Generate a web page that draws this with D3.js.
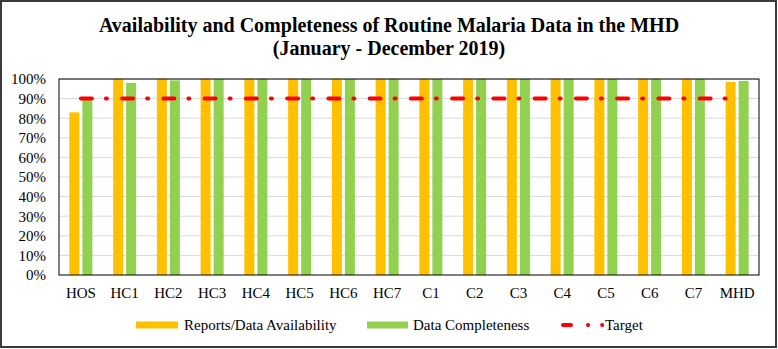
<!DOCTYPE html>
<html>
<head>
<meta charset="utf-8">
<script src="https://cdn.jsdelivr.net/npm/d3@7"></script>
<style>
  body { margin: 0; background: #fff; }
  svg text { font-family: "Liberation Serif", "Times New Roman", serif; }
</style>
</head>
<body>
<svg width="778" height="349"></svg>
<script>
// categories and values
const sites = ['HOS', 'HC1', 'HC2', 'HC3', 'HC4', 'HC5', 'HC6', 'HC7', 'C1', 'C2', 'C3', 'C4', 'C5', 'C6', 'C7', 'MHD'];
const availability = [83, 100, 100, 100, 100, 100, 100, 100, 100, 100, 100, 100, 100, 100, 100, 98.5];
const completeness = [90, 98, 99.3, 100, 100, 100, 100, 100, 100, 100, 100, 100, 100, 100, 100, 99];
const target = [90, 90, 90, 90, 90, 90, 90, 90, 90, 90, 90, 90, 90, 90, 90, 90];
const yTicks = [0, 10, 20, 30, 40, 50, 60, 70, 80, 90, 100];

const svg = d3.select('svg');
const width = 778, height = 349;
const margin = { top: 79, right: 19, bottom: 74, left: 59 };

// outer frame
svg.append('rect')
  .attr('x', 1).attr('y', 1)
  .attr('width', width - 3).attr('height', height - 3)
  .attr('fill', 'none').attr('stroke', '#3a3a3a').attr('stroke-width', 2);

// title
svg.append('text')
  .attr('x', 389).attr('y', 32)
  .attr('text-anchor', 'middle')
  .attr('font-size', 20).attr('font-weight', 'bold')
  .text('Availability and Completeness of Routine Malaria Data in the MHD');
svg.append('text')
  .attr('x', 389).attr('y', 55)
  .attr('text-anchor', 'middle')
  .attr('font-size', 20).attr('font-weight', 'bold')
  .text('(January - December 2019)');

const x = d3.scaleBand()
  .domain(sites)
  .range([margin.left, width - margin.right]);

const y = d3.scaleLinear()
  .domain([0, 100])
  .range([height - margin.bottom, margin.top]);

// gridlines
svg.append('g')
  .selectAll('line')
  .data(yTicks.slice(1))
  .enter().append('line')
  .attr('x1', margin.left).attr('x2', width - margin.right)
  .attr('y1', d => y(d)).attr('y2', d => y(d))
  .attr('stroke', '#d9d9d9').attr('stroke-width', 1);

const barW = 10;
const gap = 3;

// bars
svg.append('g')
  .selectAll('rect')
  .data(availability)
  .enter().append('rect')
  .attr('x', (d, i) => x(sites[i]) + x.bandwidth() / 2 - barW - gap / 2)
  .attr('y', d => y(d))
  .attr('width', barW)
  .attr('height', d => y(0) - y(d))
  .attr('fill', '#ffc000');

svg.append('g')
  .selectAll('rect')
  .data(completeness)
  .enter().append('rect')
  .attr('x', (d, i) => x(sites[i]) + x.bandwidth() / 2 + gap / 2)
  .attr('y', d => y(d))
  .attr('width', barW)
  .attr('height', d => y(0) - y(d))
  .attr('fill', '#92d050');

// target line
const line = d3.line()
  .x((d, i) => x(sites[i]) + x.bandwidth() / 2)
  .y(d => y(d));

svg.append('path')
  .datum(target)
  .attr('d', line)
  .attr('fill', 'none')
  .attr('stroke', '#ff0000')
  .attr('stroke-width', 4)
  .attr('stroke-linecap', 'round')
  .attr('stroke-dasharray', '11,14,1,15.25');

// plot border
svg.append('rect')
  .attr('x', margin.left).attr('y', margin.top)
  .attr('width', width - margin.left - margin.right)
  .attr('height', height - margin.top - margin.bottom)
  .attr('fill', 'none').attr('stroke', '#000').attr('stroke-width', 1);

// axes
const yAxis = svg.append('g')
  .attr('transform', `translate(${margin.left},0)`)
  .call(d3.axisLeft(y).tickValues(yTicks).tickFormat(d => d + '%').tickSize(0).tickPadding(13));
yAxis.select('.domain').remove();
yAxis.selectAll('text').attr('font-size', 15).attr('fill', '#000');

const xAxis = svg.append('g')
  .attr('transform', `translate(0,${height - margin.bottom})`)
  .call(d3.axisBottom(x).tickSize(0).tickPadding(12));
xAxis.select('.domain').remove();
xAxis.selectAll('text').attr('font-size', 15).attr('fill', '#000');

// legend
const legY = 325;
const leg = svg.append('g');
leg.append('rect').attr('x', 136).attr('y', legY - 3.5).attr('width', 42).attr('height', 7).attr('fill', '#ffc000');
leg.append('text').attr('x', 184).attr('y', legY + 5).attr('font-size', 15).text('Reports/Data Availability');
leg.append('rect').attr('x', 367).attr('y', legY - 3.5).attr('width', 41).attr('height', 7).attr('fill', '#92d050');
leg.append('text').attr('x', 413).attr('y', legY + 5).attr('font-size', 15).text('Data Completeness');
leg.append('line')
  .attr('x1', 563).attr('x2', 603).attr('y1', legY).attr('y2', legY)
  .attr('stroke', '#ff0000').attr('stroke-width', 4).attr('stroke-linecap', 'round')
  .attr('stroke-dasharray', '8,17,0.1,14,0.1,100');
leg.append('text').attr('x', 605).attr('y', legY + 5).attr('font-size', 15).text('Target');
</script>
</body>
</html>
